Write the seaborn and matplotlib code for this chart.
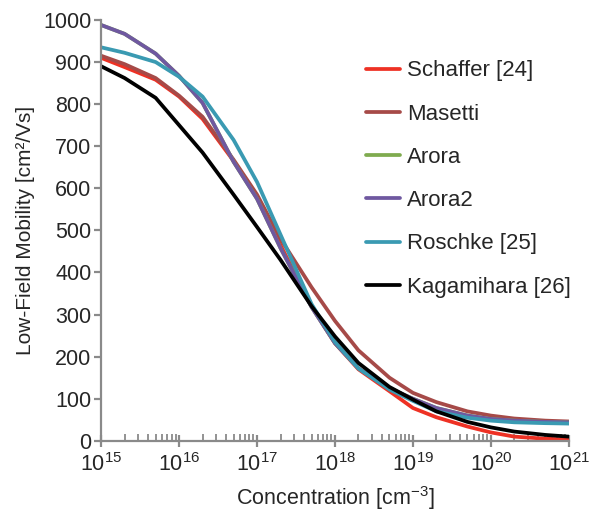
import numpy as np
import pandas as pd
import matplotlib
matplotlib.use("Agg")
import matplotlib.pyplot as plt
import seaborn as sns
from matplotlib.ticker import LogLocator, NullFormatter, FixedLocator

# Doping concentration grid [cm^-3]
concentration = [1e15, 2e15, 5e15, 1e16, 2e16, 5e16, 1e17, 2e17, 5e17,
                 1e18, 2e18, 5e18, 1e19, 2e19, 5e19, 1e20, 2e20, 5e20, 1e21]

# Low-field electron mobility [cm^2/Vs] for each model
schaffer = [910, 888, 858, 818, 765, 665, 580, 465, 320, 232, 170, 118, 78, 56, 34, 20, 10, 5, 3]
masetti = [915, 895, 862, 820, 770, 668, 585, 480, 365, 285, 215, 150, 114, 92, 70, 60, 53, 48, 46]
arora = [988, 967, 920, 867, 803, 663, 575, 458, 318, 232, 172, 125, 100, 78, 60, 52, 48, 45, 44]
arora2 = [988, 967, 920, 867, 803, 663, 575, 458, 318, 232, 172, 125, 100, 78, 60, 52, 48, 45, 44]
roschke = [935, 922, 900, 865, 818, 715, 615, 490, 325, 235, 172, 122, 95, 70, 55, 48, 44, 42, 41]
kagamihara = [890, 862, 815, 750, 685, 585, 508, 430, 320, 248, 185, 128, 98, 70, 45, 32, 22, 14, 10]

models = ["Schaffer [24]", "Masetti", "Arora", "Arora2", "Roschke [25]", "Kagamihara [26]"]
series = [schaffer, masetti, arora, arora2, roschke, kagamihara]
colors = ["#ee3124", "#a64a48", "#7fab4f", "#6f58a0", "#3a9ab2", "#000000"]

df = pd.concat(
    [pd.DataFrame({"Concentration": concentration, "Mobility": vals, "Model": name})
     for name, vals in zip(models, series)],
    ignore_index=True,
)

sns.set_style("white")
plt.rcParams["font.family"] = ["Liberation Sans", "DejaVu Sans"]
plt.rcParams["mathtext.fontset"] = "custom"
plt.rcParams["mathtext.rm"] = "Liberation Sans"
plt.rcParams["mathtext.it"] = "Liberation Sans:italic"
plt.rcParams["mathtext.bf"] = "Liberation Sans:bold"

fig = plt.figure(figsize=(5.95, 5.12), dpi=100)
ax = fig.add_axes([0.170, 0.139, 0.786, 0.822])

sns.lineplot(data=df, x="Concentration", y="Mobility", hue="Model",
             hue_order=models, palette=dict(zip(models, colors)),
             linewidth=2.7, ax=ax, legend=True)

ax.set_xscale("log")
ax.set_xlim(1e15, 1e21)
ax.set_ylim(0, 1000)

grey = "#8a8a8a"
for side in ["top", "right"]:
    ax.spines[side].set_visible(False)
for side in ["left", "bottom"]:
    ax.spines[side].set_color(grey)
    ax.spines[side].set_linewidth(1.6)

decades = [1e15, 1e16, 1e17, 1e18, 1e19, 1e20, 1e21]
ax.xaxis.set_major_locator(FixedLocator(decades))
ax.set_xticklabels([r"$\mathregular{10^{%d}}$" % int(np.log10(d)) for d in decades])
ax.xaxis.set_minor_locator(LogLocator(base=10, subs=np.arange(2, 10), numticks=20))
ax.xaxis.set_minor_formatter(NullFormatter())
ax.set_yticks(np.arange(0, 1001, 100))

ax.tick_params(axis="x", which="major", direction="inout", length=9, width=1.6,
               color=grey, labelsize=15.5, pad=4, bottom=True)
ax.tick_params(axis="x", which="minor", direction="in", length=5, width=1.3,
               color=grey, bottom=True)
ax.tick_params(axis="y", which="major", direction="out", length=5, width=1.6,
               color=grey, labelsize=15.5, pad=2, left=True)

ax.set_xlabel("Concentration [cm$^{-3}$]", fontsize=15.5, labelpad=6)
ax.set_ylabel("Low-Field Mobility [cm²/Vs]", fontsize=15, labelpad=6)

handles, labels = ax.get_legend_handles_labels()
ax.legend(handles, labels, loc="upper left", bbox_to_anchor=(0.547, 0.925),
          frameon=False, fontsize=16, handlelength=1.55, handletextpad=0.3,
          labelspacing=1.0, borderaxespad=0)

fig.savefig("out.png", dpi=100)
